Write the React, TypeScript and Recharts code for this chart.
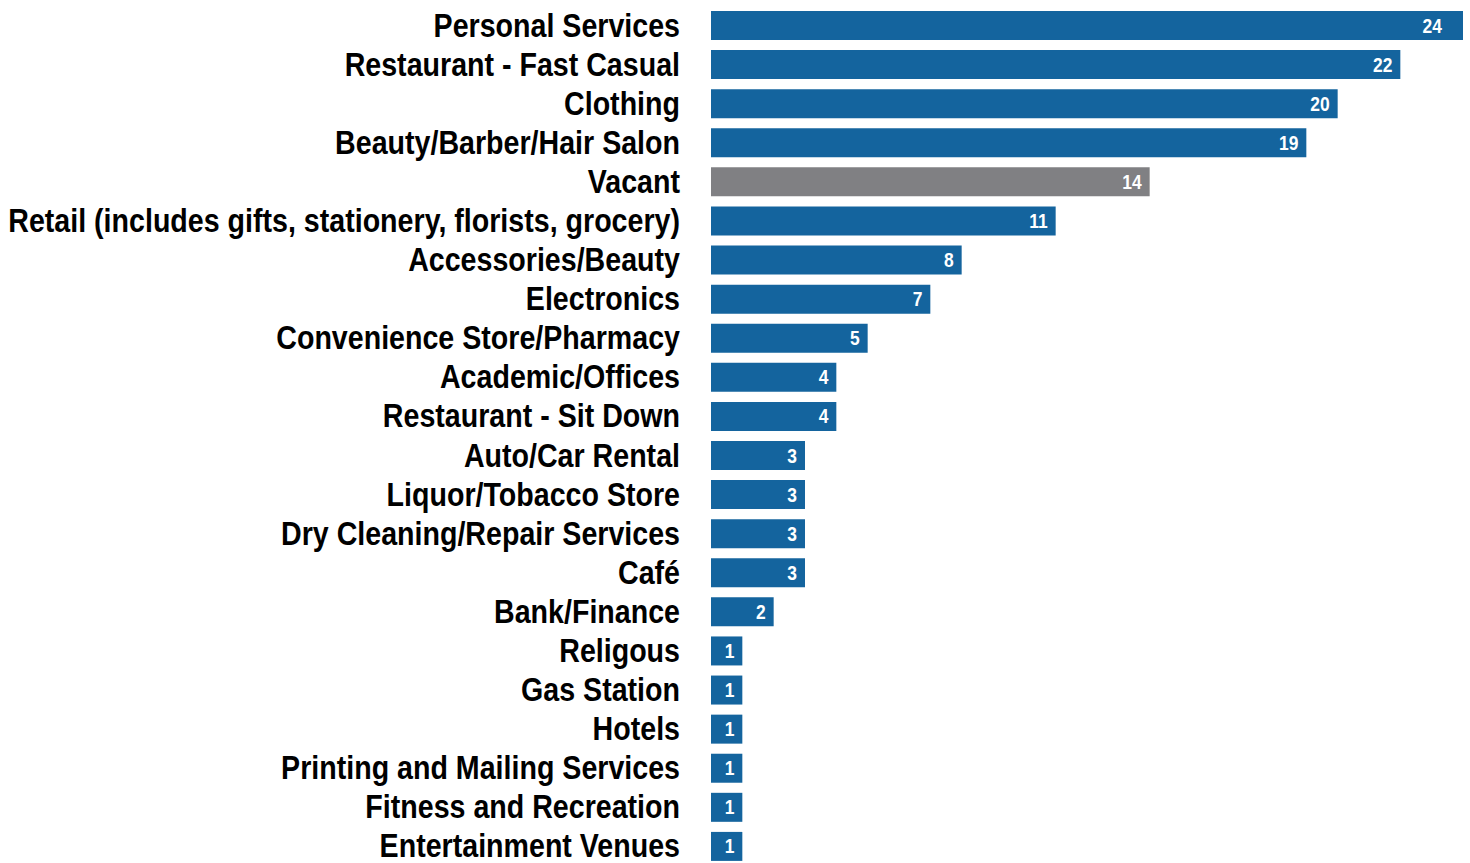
import { BarChart, Bar, XAxis, YAxis, Cell, LabelList } from "recharts";

const categories = [
  "Personal Services",
  "Restaurant - Fast Casual",
  "Clothing",
  "Beauty/Barber/Hair Salon",
  "Vacant",
  "Retail (includes gifts, stationery, florists, grocery)",
  "Accessories/Beauty",
  "Electronics",
  "Convenience Store/Pharmacy",
  "Academic/Offices",
  "Restaurant - Sit Down",
  "Auto/Car Rental",
  "Liquor/Tobacco Store",
  "Dry Cleaning/Repair Services",
  "Café",
  "Bank/Finance",
  "Religous",
  "Gas Station",
  "Hotels",
  "Printing and Mailing Services",
  "Fitness and Recreation",
  "Entertainment Venues",
];

const counts = [24, 22, 20, 19, 14, 11, 8, 7, 5, 4, 4, 3, 3, 3, 3, 2, 1, 1, 1, 1, 1, 1];

const BLUE = "#14649e";
const GREY = "#808083";
const FONT = "'Liberation Sans', Arial, sans-serif";

const data = categories.map((name, i) => ({ name, count: counts[i] }));
const maxCount = Math.max(...counts);

// Arial squeezed horizontally, to stand in for a narrow bold face
const CategoryTick = (props: any) => {
  const { x, y, payload } = props;
  return (
    <text
      transform={`translate(${x},${y + 11}) scale(0.854,1)`}
      textAnchor="end"
      fill="#000"
      fontSize={33.5}
      fontWeight={700}
      fontFamily={FONT}
    >
      {payload.value}
    </text>
  );
};

const ValueLabel = (props: any) => {
  const { x, y, width, height, value } = props;
  const pad = value === maxCount ? 21 : 8;
  return (
    <text
      transform={`translate(${x + width - pad},${y + height / 2 + 7}) scale(0.83,1)`}
      textAnchor="end"
      fill="#fff"
      fontSize={21}
      fontWeight={700}
      fontFamily={FONT}
    >
      {value}
    </text>
  );
};

export default function App() {
  return (
    <div
      style={{
        position: "absolute",
        left: 0,
        top: 0,
        width: 1470,
        height: 863,
        overflow: "hidden",
        background: "#fff",
      }}
    >
      <BarChart
        width={1470}
        height={866}
        data={data}
        layout="vertical"
        margin={{ top: 6, right: 7, bottom: 0, left: 0 }}
        barSize={29}
      >
        <XAxis type="number" domain={[0, 24]} hide />
        <YAxis
          type="category"
          dataKey="name"
          width={711}
          axisLine={false}
          tickLine={false}
          tickSize={0}
          tickMargin={31}
          interval={0}
          tick={<CategoryTick />}
        />
        <Bar dataKey="count" isAnimationActive={false}>
          {data.map((d) => (
            <Cell key={d.name} fill={d.name === "Vacant" ? GREY : BLUE} />
          ))}
          <LabelList dataKey="count" content={<ValueLabel />} />
        </Bar>
      </BarChart>
    </div>
  );
}
